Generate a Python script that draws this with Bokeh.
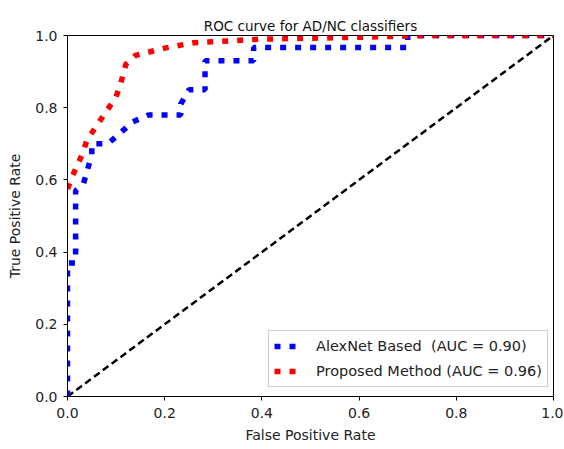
from bokeh.plotting import figure
from bokeh.models import Range1d, FixedTicker, Legend, LegendItem
from bokeh.embed import file_html
from bokeh.resources import INLINE

# AlexNet Based ROC
alex_fpr = [0.0, 0.0, 0.0167, 0.0167, 0.033, 0.05, 0.05, 0.083, 0.1, 0.117, 0.133, 0.167, 0.233, 0.233, 0.25, 0.283, 0.283, 0.383, 0.383, 0.7, 0.7, 1.0]
alex_tpr = [0.0, 0.37, 0.37, 0.57, 0.59, 0.67, 0.70, 0.70, 0.72, 0.74, 0.76, 0.78, 0.78, 0.81, 0.85, 0.85, 0.93, 0.93, 0.967, 0.967, 1.0, 1.0]

# Proposed Method ROC
prop_fpr = [0.0, 0.01, 0.03, 0.04, 0.06, 0.08, 0.1, 0.11, 0.12, 0.14, 0.2, 0.26, 0.4, 0.6, 0.75, 1.0]
prop_tpr = [0.575, 0.61, 0.67, 0.71, 0.75, 0.79, 0.83, 0.87, 0.92, 0.945, 0.965, 0.98, 0.99, 0.995, 1.0, 1.0]

chance = [0.0, 1.0]
ticks = [0.0, 0.2, 0.4, 0.6, 0.8, 1.0]
tick_labels = {0.0: "0.0", 0.2: "0.2", 0.4: "0.4", 0.6: "0.6", 0.8: "0.8", 1.0: "1.0"}

FONT = "DejaVu Sans"

p = figure(frame_width=486, frame_height=361, output_backend="svg", toolbar_location=None,
           x_range=Range1d(0, 1), y_range=Range1d(0, 1),
           title="ROC curve for AD/NC classifiers",
           min_border_left=67, min_border_right=10, min_border_top=35, min_border_bottom=52)
p.title.align = "center"
p.title.text_font = FONT
p.title.text_font_size = "13.5px"
p.title.text_font_style = "normal"
p.title.text_color = "#111111"
p.title.offset = 0
p.title.standoff = 4

p.xgrid.visible = False
p.ygrid.visible = False
p.outline_line_color = "black"
p.outline_line_width = 1
p.background_fill_color = "white"
p.border_fill_color = "white"

for ax, lbl in ((p.xaxis[0], "False Positive Rate"), (p.yaxis[0], "True Positive Rate")):
    ax.ticker = FixedTicker(ticks=ticks)
    ax.major_label_overrides = tick_labels
    ax.axis_label = lbl
    ax.axis_label_text_font = FONT
    ax.axis_label_text_font_size = "14px"
    ax.axis_label_text_font_style = "normal"
    ax.axis_label_text_color = "#222222"
    ax.major_label_text_font = FONT
    ax.major_label_text_font_size = "14px"
    ax.major_label_text_color = "#222222"
    ax.minor_tick_line_color = None
    ax.major_tick_out = 4
    ax.major_tick_in = 0
    ax.axis_line_color = "black"
    ax.major_tick_line_color = "black"

p.xaxis[0].major_label_standoff = 7
p.xaxis[0].axis_label_standoff = 6
p.yaxis[0].major_label_standoff = 6
p.yaxis[0].axis_label_standoff = 9
p.yaxis[0].major_label_orientation = "horizontal"

r_chance = p.line(chance, chance, line_color="black", line_width=2.5, line_dash="7 4")
r_alex = p.line(alex_fpr, alex_tpr, line_color="blue", line_width=5.5, line_dash="6 9")
r_prop = p.line(prop_fpr, prop_tpr, line_color="red", line_width=5.5, line_dash="6 9")

legend = Legend(items=[
    LegendItem(label="AlexNet Based  (AUC = 0.90)", renderers=[r_alex]),
    LegendItem(label="Proposed Method (AUC = 0.96)", renderers=[r_prop]),
], location=(201, 9))
legend.label_text_font = FONT
legend.label_text_font_size = "14.5px"
legend.label_text_color = "#222222"
legend.border_line_color = "#cccccc"
legend.border_line_alpha = 1
legend.background_fill_alpha = 0.8
legend.glyph_width = 22
legend.glyph_height = 20
legend.label_standoff = 20
legend.label_height = 20
legend.label_width = 226
legend.spacing = 5
legend.padding = 5
legend.margin = 0
p.add_layout(legend)

open("out.html", "w").write(file_html(p, INLINE))
